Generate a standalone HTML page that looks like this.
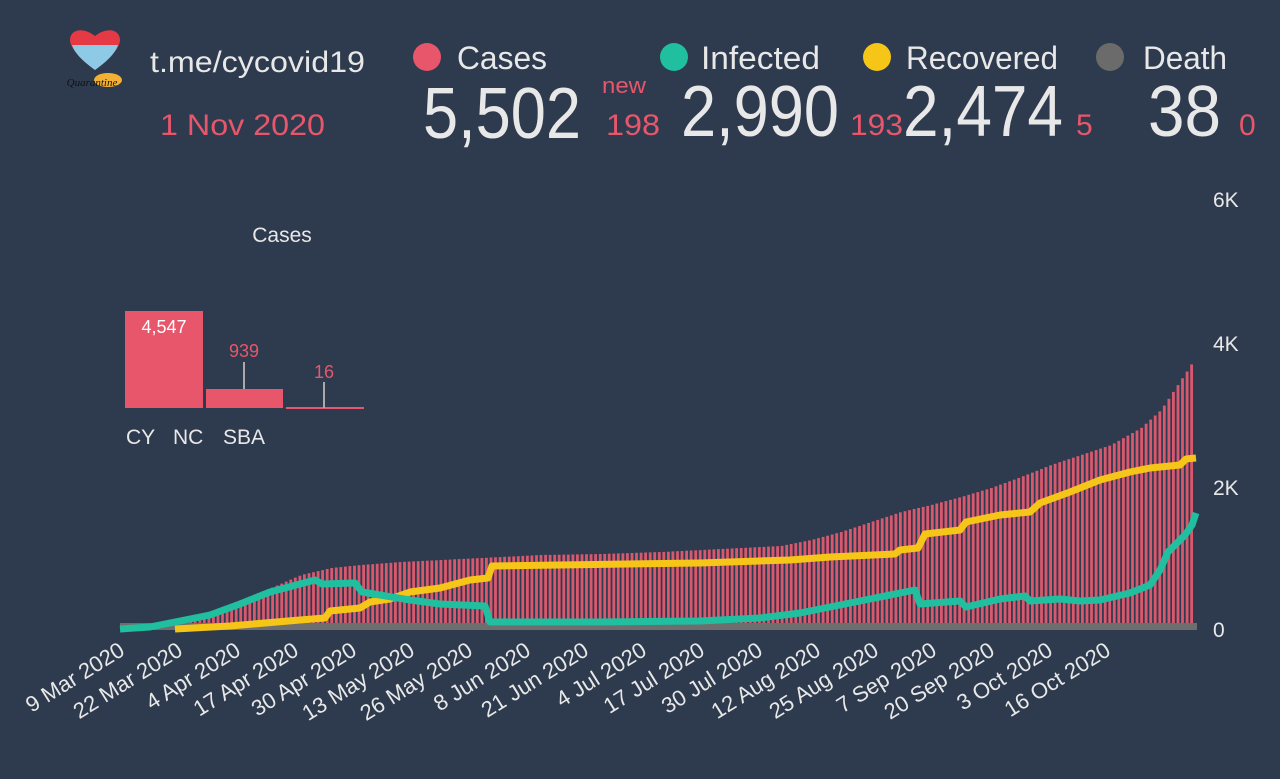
<!DOCTYPE html>
<html><head><meta charset="utf-8"><style>
html,body{margin:0;padding:0;background:#2e3b4e;width:1280px;height:779px;overflow:hidden;font-family:"Liberation Sans",sans-serif}
</style></head><body>
<svg id="s" width="1280" height="779" xmlns="http://www.w3.org/2000/svg" font-family="Liberation Sans, sans-serif">
<rect width="1280" height="779" fill="#2e3b4e"/>
<path d="M95 70 C80 58 70 48 70 40 C70 30 82 26 95 36 C108 26 120 30 120 40 C120 48 110 58 95 70Z" fill="#e63946"/>
<path d="M72 45 L118 45 C115 54 106 62 95 70 C84 62 75 54 72 45Z" fill="#8ecae6"/>
<ellipse cx="108" cy="80" rx="14" ry="7" fill="#f2b134"/>
<text x="92" y="86" font-size="11" fill="#111" font-style="italic" font-family="Liberation Serif, serif" text-anchor="middle">Quarantine</text>
<text x="150" y="72" font-size="30" fill="#e8e8e8" textLength="215" lengthAdjust="spacingAndGlyphs">t.me/cycovid19</text>
<text x="160" y="135" font-size="30" fill="#e8566b" textLength="165" lengthAdjust="spacingAndGlyphs">1 Nov 2020</text>
<circle cx="427" cy="57" r="14" fill="#e8566b"/><text x="457" y="69" font-size="32" fill="#e8e8e8" textLength="90" lengthAdjust="spacingAndGlyphs">Cases</text>
<circle cx="674" cy="57" r="14" fill="#1fbf9f"/><text x="701" y="69" font-size="32" fill="#e8e8e8" textLength="119" lengthAdjust="spacingAndGlyphs">Infected</text>
<circle cx="877" cy="57" r="14" fill="#f5c518"/><text x="906" y="69" font-size="32" fill="#e8e8e8" textLength="152" lengthAdjust="spacingAndGlyphs">Recovered</text>
<circle cx="1110" cy="57" r="14" fill="#6b6b6b"/><text x="1143" y="69" font-size="32" fill="#e8e8e8" textLength="84" lengthAdjust="spacingAndGlyphs">Death</text>
<g fill="#e8e8e8" font-size="72">
<text x="423" y="138" textLength="158" lengthAdjust="spacingAndGlyphs">5,502</text>
<text x="681" y="136" textLength="158" lengthAdjust="spacingAndGlyphs">2,990</text>
<text x="903" y="136" textLength="160" lengthAdjust="spacingAndGlyphs">2,474</text>
<text x="1148" y="136" textLength="73" lengthAdjust="spacingAndGlyphs">38</text>
</g>
<g fill="#e8566b" font-size="30">
<text x="602" y="93" font-size="22" textLength="44" lengthAdjust="spacingAndGlyphs">new</text>
<text x="606" y="135" textLength="54" lengthAdjust="spacingAndGlyphs">198</text>
<text x="850" y="135" textLength="53" lengthAdjust="spacingAndGlyphs">193</text>
<text x="1076" y="135">5</text>
<text x="1239" y="135">0</text>
</g>
<g fill="#e8e8e8" font-size="21">
<text x="1213" y="207">6K</text><text x="1213" y="351">4K</text><text x="1213" y="495">2K</text><text x="1213" y="637">0</text>
</g>
<g id="bars" fill="#d9586e"></g>
<rect x="120" y="623" width="1077" height="7" fill="#6e6e6e"/>
<polyline id="rec" fill="none" stroke="#f5c518" stroke-width="7" stroke-linejoin="round"/>
<polyline id="inf" fill="none" stroke="#1fbf9f" stroke-width="7" stroke-linejoin="round"/>
<g id="xl" fill="#e8e8e8" font-size="22"></g>
<text x="282" y="242" font-size="21" fill="#e8e8e8" text-anchor="middle">Cases</text>
<rect x="125" y="311" width="78" height="97" fill="#e8566b"/>
<rect x="206" y="389" width="77" height="19" fill="#e8566b"/>
<rect x="286" y="407" width="78" height="2" fill="#e8566b"/>
<text x="164" y="333" font-size="18" fill="#fff" text-anchor="middle">4,547</text>
<text x="244" y="357" font-size="18" fill="#e8566b" text-anchor="middle">939</text>
<line x1="244" y1="362" x2="244" y2="389" stroke="#aaa" stroke-width="2"/>
<text x="324" y="378" font-size="18" fill="#e8566b" text-anchor="middle">16</text>
<line x1="324" y1="382" x2="324" y2="408" stroke="#aaa" stroke-width="2"/>
<g font-size="21" fill="#e8e8e8"><text x="126" y="444">CY</text><text x="173" y="444">NC</text><text x="223" y="444">SBA</text></g>
</svg>
<script>
function interp(pts,x){for(let i=0;i<pts.length-1;i++){if(x>=pts[i][0]&&x<=pts[i+1][0]){let t=(x-pts[i][0])/(pts[i+1][0]-pts[i][0]||1);return pts[i][1]+t*(pts[i+1][1]-pts[i][1]);}}return pts[pts.length-1][1];}
const cases=[[120,629],[150,627],[180,620],[210,612],[240,600],[270,588],[300,575],[330,568],[360,565],[400,562],[440,560],[480,558],[540,555],[600,554],[660,552],[720,549],[780,546],[810,540],[840,532],[870,522],[900,512],[930,505],[960,497],[990,488],[1020,477],[1050,465],[1080,455],[1110,445],[1140,428],[1160,410],[1170,395],[1180,380],[1190,365],[1194,355]];
let b='';for(let x=121;x<=1194;x+=4.55){let y=interp(cases,x);b+=`<rect x="${x.toFixed(1)}" y="${y.toFixed(1)}" width="2.8" height="${(629-y).toFixed(1)}"/>`;}
document.getElementById('bars').innerHTML=b;
const rec=[[175,629],[230,626],[300,620],[325,618],[330,611],[360,608],[370,602],[390,599],[410,592],[440,588],[470,580],[488,578],[492,566],[560,565],[700,563],[790,560],[830,557],[895,554],[900,550],[918,548],[925,534],[960,530],[966,522],[1000,515],[1030,512],[1040,503],[1070,492],[1100,480],[1130,472],[1150,468],[1180,465],[1186,459],[1196,458]];
const inf=[[120,629],[150,627],[180,621],[210,615],[240,604],[270,592],[300,584],[315,580],[322,584],[355,583],[362,592],[380,595],[410,600],[440,604],[485,606],[490,622],[600,622],[700,621],[760,618],[800,613],[840,605],[870,599],[900,593],[915,590],[920,604],[960,601],[966,607],[1000,599],[1025,596],[1030,601],[1060,599],[1080,601],[1100,600],[1130,593],[1150,585],[1160,570],[1168,552],[1175,545],[1185,535],[1192,525],[1196,513]];
document.getElementById('rec').setAttribute('points',rec.map(p=>p.join(',')).join(' '));
document.getElementById('inf').setAttribute('points',inf.map(p=>p.join(',')).join(' '));
const labs=["9 Mar 2020","22 Mar 2020","4 Apr 2020","17 Apr 2020","30 Apr 2020","13 May 2020","26 May 2020","8 Jun 2020","21 Jun 2020","4 Jul 2020","17 Jul 2020","30 Jul 2020","12 Aug 2020","25 Aug 2020","7 Sep 2020","20 Sep 2020","3 Oct 2020","16 Oct 2020"];
let h='';labs.forEach((l,i)=>{let x=126+i*58;h+=`<text transform="translate(${x},654) rotate(-32)" text-anchor="end">${l}</text>`;});
document.getElementById('xl').innerHTML=h;
</script>
</body></html>
